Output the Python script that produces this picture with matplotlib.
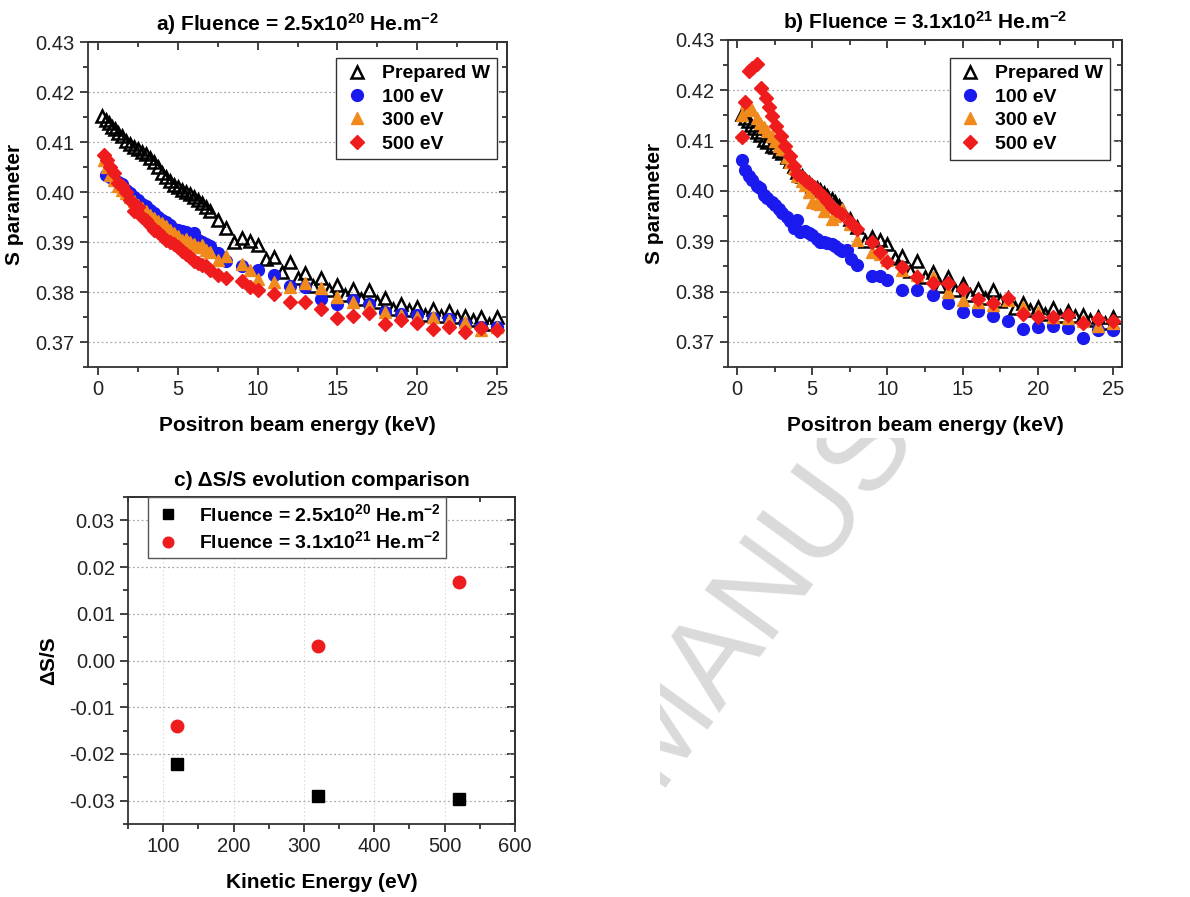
import matplotlib
matplotlib.use("Agg")
import matplotlib.pyplot as plt
from matplotlib.ticker import MultipleLocator, FormatStrFormatter
from matplotlib.transforms import Bbox, TransformedBbox

plt.rcParams["font.family"] = ["Liberation Sans", "DejaVu Sans"]
plt.rcParams["mathtext.fontset"] = "dejavusans"
plt.rcParams["mathtext.default"] = "regular"
plt.rcParams["axes.unicode_minus"] = False

# --- data: Prepared W reference (same in a and b) ---
e_ref = [0.3, 0.5, 0.7, 0.9, 1.1, 1.3, 1.5, 1.8, 2.0, 2.3, 2.5, 2.8, 3.0, 3.3, 3.5, 3.8,
         4.0, 4.3, 4.5, 4.8, 5.0, 5.3, 5.5, 5.8, 6.0, 6.3, 6.5, 6.8, 7.0, 7.5, 8.0, 8.5,
         9.0, 9.5, 10.0, 10.5, 11, 11.5, 12, 12.5, 13, 13.5, 14, 14.5, 15, 15.5, 16, 16.5,
         17, 17.5, 18, 18.5, 19, 19.5, 20, 20.5, 21, 21.5, 22, 22.5, 23, 23.5, 24, 24.5, 25]
s_ref = [0.4152, 0.4145, 0.4138, 0.4131, 0.4126, 0.4118, 0.4112, 0.4102, 0.4097, 0.4090,
         0.4087, 0.4080, 0.4076, 0.4068, 0.4060, 0.4050, 0.4038, 0.4030, 0.4022, 0.4015,
         0.4010, 0.4005, 0.4001, 0.3996, 0.3990, 0.3984, 0.3978, 0.3970, 0.3963, 0.3945,
         0.3928, 0.3901, 0.3908, 0.3902, 0.3894, 0.3866, 0.3870, 0.3840, 0.3861, 0.3828,
         0.3839, 0.3812, 0.3829, 0.3804, 0.3814, 0.3794, 0.3806, 0.3787, 0.3804, 0.3781,
         0.3788, 0.3767, 0.3777, 0.3764, 0.3770, 0.3755, 0.3767, 0.3752, 0.3762, 0.3751,
         0.3753, 0.3744, 0.3750, 0.3737, 0.3750]

# --- panel a: 2.5e20 He/m2 ---
e_a100 = [0.5, 0.8, 1.0, 1.3, 1.5, 1.8, 2.0, 2.3, 2.5, 2.8, 3.0, 3.3, 3.5, 3.8, 4.0, 4.3,
          4.5, 4.8, 5.0, 5.3, 5.5, 5.8, 6.0, 6.3, 6.5, 6.8, 7.0, 7.5, 8.0, 9, 10, 11, 12,
          13, 14, 15, 16, 17, 18, 19, 20, 21, 22, 23, 24, 25]
s_a100 = [0.4034, 0.4030, 0.4025, 0.4020, 0.4017, 0.4005, 0.3998, 0.3990, 0.3984, 0.3976,
          0.3972, 0.3965, 0.3958, 0.3950, 0.3945, 0.3940, 0.3934, 0.3927, 0.3925, 0.3923,
          0.3920, 0.3914, 0.3918, 0.3905, 0.3900, 0.3896, 0.3893, 0.3879, 0.3862, 0.3852,
          0.3844, 0.3835, 0.3812, 0.3811, 0.3787, 0.3777, 0.3784, 0.3776, 0.3761, 0.3757,
          0.3754, 0.3749, 0.3747, 0.3737, 0.3731, 0.3731]

e_a300 = [0.4, 0.6, 0.8, 1.0, 1.3, 1.5, 1.8, 2.0, 2.3, 2.5, 2.8, 3.0, 3.3, 3.5, 3.8, 4.0,
          4.3, 4.5, 4.8, 5.0, 5.3, 5.5, 5.8, 6.0, 6.3, 6.5, 6.8, 7.0, 7.5, 8.0, 9, 9.5, 10,
          11, 12, 13, 14, 15, 16, 17, 18, 19, 20, 21, 22, 23, 24, 25]
s_a300 = [0.4065, 0.4050, 0.4035, 0.4025, 0.4012, 0.4005, 0.3998, 0.3990, 0.3982, 0.3975,
          0.3968, 0.3963, 0.3955, 0.3948, 0.3942, 0.3938, 0.3932, 0.3925, 0.3918, 0.3912,
          0.3905, 0.3907, 0.3900, 0.3896, 0.3890, 0.3894, 0.3885, 0.3880, 0.3864, 0.3872,
          0.3857, 0.3844, 0.3826, 0.3821, 0.3811, 0.3819, 0.3809, 0.3791, 0.3781, 0.3772,
          0.3761, 0.3754, 0.3751, 0.3751, 0.3745, 0.3741, 0.3725, 0.3731]

e_a500 = [0.4, 0.6, 0.8, 1.0, 1.3, 1.5, 1.8, 2.0, 2.3, 2.5, 2.8, 3.0, 3.3, 3.5, 3.8, 4.0,
          4.3, 4.5, 4.8, 5.0, 5.3, 5.5, 5.8, 6.0, 6.3, 6.5, 6.8, 7.0, 7.5, 8.0, 9, 9.5, 10,
          11, 12, 13, 14, 15, 16, 17, 18, 19, 20, 21, 22, 23, 24, 25]
s_a500 = [0.4075, 0.4065, 0.4050, 0.4038, 0.4018, 0.4012, 0.4000, 0.3985, 0.3962, 0.3970,
          0.3950, 0.3945, 0.3935, 0.3925, 0.3920, 0.3912, 0.3905, 0.3900, 0.3897, 0.3890,
          0.3883, 0.3877, 0.3870, 0.3862, 0.3858, 0.3855, 0.3852, 0.3845, 0.3835, 0.3829,
          0.3822, 0.3811, 0.3804, 0.3797, 0.3780, 0.3780, 0.3767, 0.3749, 0.3752, 0.3759,
          0.3736, 0.3744, 0.3739, 0.3726, 0.3731, 0.3721, 0.3729, 0.3724]

# --- panel b: 3.1e21 He/m2 ---
e_b100 = [0.3, 0.5, 0.8, 1.0, 1.3, 1.5, 1.8, 2.0, 2.3, 2.5, 2.8, 3.0, 3.3, 3.5, 3.8, 4.0,
          4.2, 4.5, 4.8, 5.0, 5.3, 5.5, 5.8, 6.0, 6.3, 6.5, 6.8, 7.0, 7.3, 7.6, 8.0, 9.0,
          9.5, 10, 11, 12, 13, 14, 15, 16, 17, 18, 19, 20, 21, 22, 23, 24, 25]
s_b100 = [0.4062, 0.4042, 0.4030, 0.4022, 0.4010, 0.4005, 0.3992, 0.3986, 0.3978, 0.3972,
          0.3965, 0.3957, 0.3948, 0.3940, 0.3926, 0.3942, 0.3918, 0.3921, 0.3916, 0.3912,
          0.3905, 0.3898, 0.3899, 0.3897, 0.3895, 0.3890, 0.3884, 0.3881, 0.3882, 0.3865,
          0.3853, 0.3830, 0.3830, 0.3823, 0.3803, 0.3804, 0.3793, 0.3778, 0.3760, 0.3762,
          0.3752, 0.3741, 0.3725, 0.3729, 0.3732, 0.3727, 0.3708, 0.3724, 0.3724]

e_b300 = [0.3, 0.6, 0.8, 1.0, 1.3, 1.5, 1.8, 2.0, 2.3, 2.5, 2.8, 3.0, 3.3, 3.5, 3.8, 4.0,
          4.3, 4.5, 4.8, 5.0, 5.3, 5.5, 5.8, 6.0, 6.3, 6.5, 7.0, 7.5, 8.0, 9, 9.5, 10, 11,
          12, 13, 14, 15, 16, 17, 18, 19, 20, 21, 22, 23, 24, 25]
s_b300 = [0.4151, 0.4174, 0.4165, 0.4160, 0.4144, 0.4136, 0.4127, 0.4120, 0.4110, 0.4100,
          0.4090, 0.4084, 0.4068, 0.4058, 0.4045, 0.4030, 0.4020, 0.4012, 0.3998, 0.3978,
          0.3976, 0.3974, 0.3960, 0.3968, 0.3945, 0.3950, 0.3965, 0.3935, 0.3902, 0.3879,
          0.3875, 0.3862, 0.3843, 0.3833, 0.3829, 0.3800, 0.3783, 0.3780, 0.3773, 0.3783,
          0.3770, 0.3760, 0.3750, 0.3747, 0.3741, 0.3731, 0.3737]

e_b500 = [0.3, 0.5, 0.8, 1.0, 1.3, 1.6, 1.9, 2.1, 2.3, 2.6, 2.9, 3.2, 3.5, 3.8, 4.0, 4.3,
          4.6, 4.8, 5.1, 5.4, 5.7, 6.0, 6.3, 6.6, 7.0, 7.5, 8.0, 9.0, 9.5, 10, 11, 12, 13,
          14, 15, 16, 17, 18, 19, 20, 21, 22, 23, 24, 25]
s_b500 = [0.4107, 0.4177, 0.4238, 0.4245, 0.4252, 0.4205, 0.4185, 0.4167, 0.4148, 0.4130,
          0.4110, 0.4090, 0.4070, 0.4050, 0.4034, 0.4028, 0.4020, 0.4015, 0.4008, 0.4000,
          0.3990, 0.3980, 0.3968, 0.3962, 0.3955, 0.3938, 0.3925, 0.3899, 0.3879, 0.3859,
          0.3848, 0.3829, 0.3816, 0.3816, 0.3806, 0.3785, 0.3777, 0.3787, 0.3755, 0.3750,
          0.3750, 0.3754, 0.3737, 0.3745, 0.3741]

# --- panel c: dS/S vs ion kinetic energy ---
kin_energy = [120, 320, 520]
ds_low = [-0.0222, -0.0291, -0.0296]
ds_high = [-0.0141, 0.0030, 0.0168]

labels = ["Prepared W", "100 eV", "300 eV", "500 eV"]
ORANGE = "#f08a1c"
RED = "#ee1c1c"
BLUE = "#1a1aee"

fig = plt.figure(figsize=(11.9, 8.97), dpi=100)
W, H = 1190, 897


def add_axes(x0, x1, y0, y1):
    return fig.add_axes([x0 / W, 1 - y1 / H, (x1 - x0) / W, (y1 - y0) / H])


def style(ax, xmaj, xmin, ymaj, ymin):
    for sp in ax.spines.values():
        sp.set_linewidth(1.3)
        sp.set_color("#333333")
    ax.xaxis.set_major_locator(MultipleLocator(xmaj))
    ax.xaxis.set_minor_locator(MultipleLocator(xmin))
    ax.yaxis.set_major_locator(MultipleLocator(ymaj))
    ax.yaxis.set_minor_locator(MultipleLocator(ymin))
    ax.tick_params(which="both", labelsize=14.5, colors="#222222", width=1.2, direction="out")
    ax.tick_params(which="major", length=6)
    ax.tick_params(which="minor", length=3.5)
    ax.set_axisbelow(True)
    # mirrored axes with inward ticks on top and right
    top = ax.secondary_xaxis("top")
    top.xaxis.set_major_locator(MultipleLocator(xmaj))
    top.xaxis.set_minor_locator(MultipleLocator(xmin))
    right = ax.secondary_yaxis("right")
    right.yaxis.set_major_locator(MultipleLocator(ymaj))
    right.yaxis.set_minor_locator(MultipleLocator(ymin))
    for sec in (top, right):
        sec.tick_params(which="both", direction="in", width=1.2, colors="#222222",
                        labeltop=False, labelright=False)
        sec.tick_params(which="major", length=6)
        sec.tick_params(which="minor", length=3.5)
        for sp in sec.spines.values():
            sp.set_linewidth(1.3)
            sp.set_color("#333333")


def s_panel(ax, title, series):
    style(ax, 5, 2.5, 0.01, 0.005)
    ax.plot(e_ref, s_ref, ls="none", marker="^", ms=9, mfc="none", mec="black",
            mew=1.8, label=labels[0], zorder=2)
    (e1, s1), (e3, s3), (e5, s5) = series
    ax.plot(e1, s1, ls="none", marker="o", ms=8.5, color=BLUE, label=labels[1], zorder=3)
    ax.plot(e3, s3, ls="none", marker="^", ms=9, color=ORANGE, label=labels[2], zorder=4)
    ax.plot(e5, s5, ls="none", marker="D", ms=7.5, color=RED, label=labels[3], zorder=5)
    ax.set_xlim(-0.6, 25.6)
    ax.set_ylim(0.365, 0.43)
    ax.yaxis.set_major_formatter(FormatStrFormatter("%.2f"))
    ax.grid(axis="y", which="major", ls=(0, (1.5, 2)), color="#aaaaaa", lw=0.9)
    ax.set_xlabel("Positron beam energy (keV)", fontsize=15, fontweight="bold", labelpad=12)
    ax.set_ylabel("S parameter", fontsize=15, fontweight="bold", labelpad=8)
    ax.set_title(title, fontsize=15, fontweight="bold", pad=8)


ax_a = add_axes(88, 507, 42, 367)
s_panel(ax_a, r"a) Fluence = 2.5x10$^{20}$ He.m$^{-2}$",
        [(e_a100, s_a100), (e_a300, s_a300), (e_a500, s_a500)])
ax_a.legend(loc="upper right", bbox_to_anchor=(0.976, 0.951), prop={"weight": "bold", "size": 14},
            frameon=True, fancybox=False, edgecolor="#333333", framealpha=1,
            labelspacing=0.3, handletextpad=0.6, borderpad=0.35, handlelength=1.4,
            borderaxespad=0).get_frame().set_linewidth(1.0)

ax_b = add_axes(728, 1122, 40, 367)
s_panel(ax_b, r"b) Fluence = 3.1x10$^{21}$ He.m$^{-2}$",
        [(e_b100, s_b100), (e_b300, s_b300), (e_b500, s_b500)])
ax_b.legend(loc="upper right", bbox_to_anchor=(0.97, 0.945), prop={"weight": "bold", "size": 14},
            frameon=True, fancybox=False, edgecolor="#333333", framealpha=1,
            labelspacing=0.3, handletextpad=0.6, borderpad=0.35, handlelength=1.4,
            borderaxespad=0).get_frame().set_linewidth(1.0)

ax_c = add_axes(128, 515, 497, 824)
style(ax_c, 100, 50, 0.01, 0.005)
ax_c.plot(kin_energy, ds_low, ls="none", marker="s", ms=8, color="black",
          label=r"Fluence = 2.5x10$^{20}$ He.m$^{-2}$", zorder=3)
ax_c.plot(kin_energy, ds_high, ls="none", marker="o", ms=9, color=RED,
          label=r"Fluence = 3.1x10$^{21}$ He.m$^{-2}$", zorder=3)
ax_c.set_xlim(50, 600)
ax_c.set_ylim(-0.035, 0.035)
ax_c.yaxis.set_major_formatter(FormatStrFormatter("%.2f"))
ax_c.grid(axis="y", which="major", ls=(0, (1.5, 2)), color="#aaaaaa", lw=0.9)
ax_c.grid(axis="x", which="major", ls=(0, (1.5, 2)), color="#dddddd", lw=0.8)
ax_c.set_xlabel("Kinetic Energy (eV)", fontsize=15, fontweight="bold", labelpad=12)
ax_c.set_ylabel("ΔS/S", fontsize=15, fontweight="bold", labelpad=8)
ax_c.set_title("c) ΔS/S evolution comparison", fontsize=15, fontweight="bold", pad=8)
leg_c = ax_c.legend(loc="upper left", bbox_to_anchor=(0.052, 1.0), prop={"weight": "bold", "size": 14},
                    frameon=True, fancybox=False, edgecolor="#555555", framealpha=1,
                    labelspacing=0.3, handletextpad=0.9, borderpad=0.3, handlelength=1.4,
                    markerscale=0.85, borderaxespad=0)
leg_c.get_frame().set_linewidth(1.0)

# faint "accepted manuscript" watermark, partly hidden behind the panels
wm = fig.text(760 / W, 1 - 590 / H, "MANUS", fontsize=88, color="#dadada",
              rotation=54, ha="center", va="center", rotation_mode="anchor", zorder=-5)
clip = TransformedBbox(Bbox([[660 / W, 0], [1, 1 - 438 / H]]), fig.transFigure)
wm.set_clip_box(clip)
wm.set_clip_on(True)

fig.savefig("out.png", dpi=100)
